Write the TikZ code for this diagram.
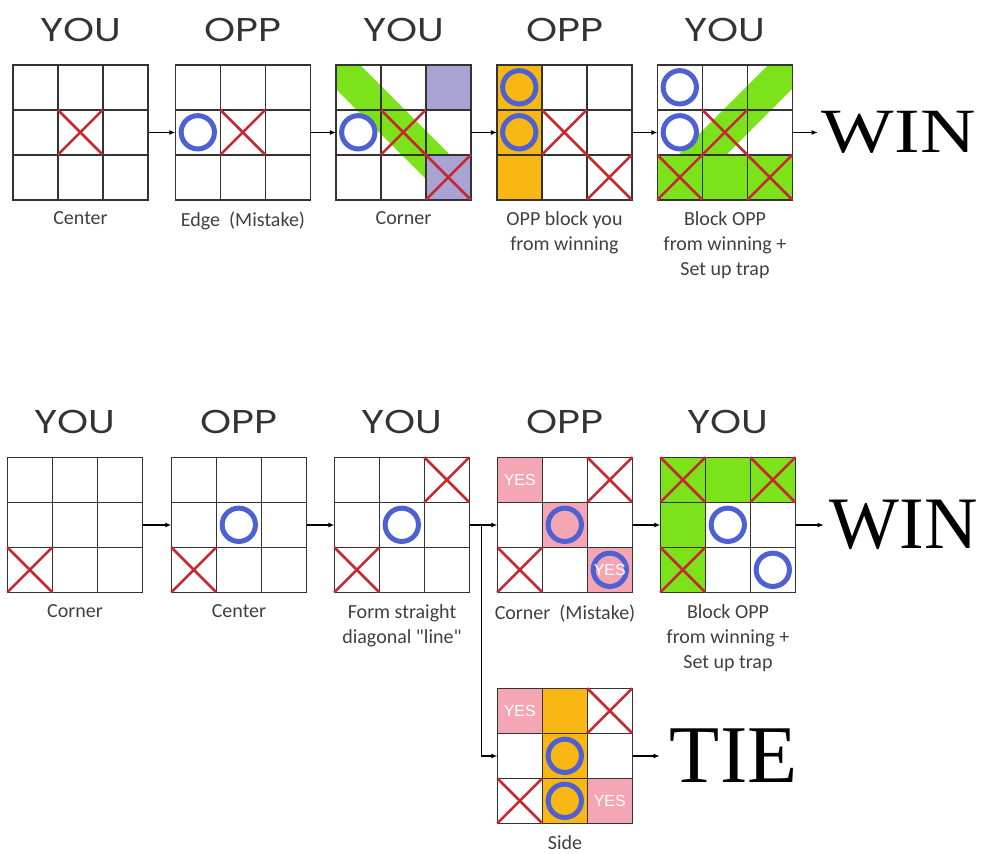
\documentclass[tikz,border=0pt]{standalone}
\usepackage{fontspec}
\usepackage{tikz}
\usetikzlibrary{positioning,arrows.meta}

\newfontfamily\headfont{Poppins}
\newfontfamily\lblfont{Carlito}
\newfontfamily\bigfont{Liberation Serif}
\newfontfamily\yesfont{Liberation Sans}

\definecolor{grn}{HTML}{7CE31A}
\definecolor{lav}{HTML}{A9A3D3}
\definecolor{pnk}{HTML}{F4A6B4}
\definecolor{org}{HTML}{F9B714}
\definecolor{oblue}{HTML}{4D61D2}
\definecolor{xred}{HTML}{C62830}

% cell helpers, (col,row) counted from the top left
\newcommand{\xx}[2]{\draw[xmark] (#1,#2) -- ++(1,1) (#1+1,#2) -- ++(-1,1);}
\newcommand{\oo}[2]{\draw[omark] (#1+0.5,#2+0.5) circle[radius=0.37];}
\newcommand{\sq}[3]{\fill[#3] (#1,#2) rectangle ++(1,1);}
\newcommand{\yes}[2]{\node[yesmark] at (#1+0.5,#2+0.5) {YES};}
\newcommand{\wide}[1]{\scalebox{1.2}[1]{#1}}
\newcommand{\board}[3]{%
  \begin{scope}[shift={(#1.north west)}, x=45pt, y=-45pt]
    #2
    \foreach \i in {0,...,3} {\draw[gridline] (\i,0) -- (\i,3); \draw[gridline] (0,\i) -- (3,\i);}
    #3
  \end{scope}}

\begin{document}
\begin{tikzpicture}[x=1pt, y=-1pt,
    tile/.style={minimum width=135pt, minimum height=135pt, inner sep=0pt},
    head/.style={font=\headfont\fontsize{33}{33}\selectfont, inner sep=0pt, text=black!80},
    lbl/.style={font=\lblfont\fontsize{20}{25}\selectfont, align=center, inner sep=0pt, text=black!75},
    gridline/.style={line width=1.6pt, black!80, line cap=rect},
    xmark/.style={line width=2.6pt, xred},
    omark/.style={line width=5pt, oblue},
    band/.style={line width=34pt, grn},
    yesmark/.style={font=\yesfont\fontsize{16}{16}\selectfont, text=white, inner sep=0pt},
    flow/.style={-{Latex[length=6pt,width=5pt]}, line width=1.4pt},
    big/.style={font=\bigfont, inner sep=0pt}]
  \useasboundingbox (0,0) rectangle (983,854);

  % first game
  \node[tile] (t1) at (80.5,132.5) {};
  \node[tile] (t2) at (243,132.5) {};
  \node[tile] (t3) at (403.5,132.5) {};
  \node[tile] (t4) at (564.5,132.5) {};
  \node[tile] (t5) at (725,132.5) {};

  \board{t1}{}{\xx{1}{1}}
  \board{t2}{}{\oo{0}{1} \xx{1}{1}}
  \board{t3}{\begin{scope}\clip (0,0) rectangle (3,3); \draw[band] (-0.5,-0.5) -- (2.25,2.25); \end{scope}
    \sq{2}{0}{lav} \sq{2}{2}{lav}}{\oo{0}{1} \xx{1}{1} \xx{2}{2}}
  \board{t4}{\sq{0}{0}{org} \sq{0}{1}{org} \sq{0}{2}{org}}{\oo{0}{0} \oo{0}{1} \xx{1}{1} \xx{2}{2}}
  \board{t5}{\begin{scope}\clip (0,0) rectangle (3,3); \draw[band] (0,3) -- (3.5,-0.5); \end{scope}
    \sq{0}{2}{grn} \sq{1}{2}{grn} \sq{2}{2}{grn}}{\oo{0}{0} \oo{0}{1} \xx{1}{1} \xx{0}{2} \xx{2}{2}}

  \node[head, above=23pt of t1] (h1) {\wide{YOU}};
  \node[head, above=23pt of t2] (h2) {\wide{OPP}};
  \node[head, above=23pt of t3] (h3) {\wide{YOU}};
  \node[head, above=23pt of t4] (h4) {\wide{OPP}};
  \node[head, above=23pt of t5] (h5) {\wide{YOU}};

  \node[lbl, below=11pt of t1] (l1) {Center};
  \node[lbl, below=11pt of t2] (l2) {Edge\ \ (Mistake)};
  \node[lbl, below=11pt of t3] (l3) {Corner};
  \node[lbl, below=11pt of t4] (l4) {OPP block you\\from winning};
  \node[lbl, below=11pt of t5] (l5) {Block OPP\\from winning +\\Set up trap};

  \node[big, right=25pt of t5, inner xsep=4pt] (win1) {\fontsize{63}{63}\selectfont\scalebox{1.22}[1]{WIN}};

  \draw[flow] (t1) -- (t2);
  \draw[flow] (t2) -- (t3);
  \draw[flow] (t3) -- (t4);
  \draw[flow] (t4) -- (t5);
  \draw[flow] (t5) -- (win1);

  % second game
  \node[tile] (b1) at (75,525) {};
  \node[tile] (b2) at (239,525) {};
  \node[tile] (b3) at (402,525) {};
  \node[tile] (b4) at (565,525) {};
  \node[tile] (b5) at (728,525) {};
  \node[tile] (tie) at (565,756) {};

  \board{b1}{}{\xx{0}{2}}
  \board{b2}{}{\xx{0}{2} \oo{1}{1}}
  \board{b3}{}{\xx{0}{2} \oo{1}{1} \xx{2}{0}}
  \board{b4}{\sq{0}{0}{pnk} \sq{1}{1}{pnk} \sq{2}{2}{pnk}}{\xx{2}{0} \xx{0}{2} \oo{1}{1} \oo{2}{2} \yes{0}{0} \yes{2}{2}}
  \board{b5}{\sq{0}{0}{grn} \sq{1}{0}{grn} \sq{2}{0}{grn} \sq{0}{1}{grn} \sq{0}{2}{grn}}{\xx{0}{0} \xx{2}{0} \xx{0}{2} \oo{1}{1} \oo{2}{2}}
  \board{tie}{\sq{0}{0}{pnk} \sq{1}{0}{org} \sq{1}{1}{org} \sq{1}{2}{org} \sq{2}{2}{pnk}}{\xx{2}{0} \xx{0}{2} \oo{1}{1} \oo{1}{2} \yes{0}{0} \yes{2}{2}}

  \node[head, above=23pt of b1] (g1) {\wide{YOU}};
  \node[head, above=23pt of b2] (g2) {\wide{OPP}};
  \node[head, above=23pt of b3] (g3) {\wide{YOU}};
  \node[head, above=23pt of b4] (g4) {\wide{OPP}};
  \node[head, above=23pt of b5] (g5) {\wide{YOU}};

  \node[lbl, below=12pt of b1] (m1) {Corner};
  \node[lbl, below=12pt of b2] (m2) {Center};
  \node[lbl, below=12pt of b3] (m3) {Form straight\\diagonal "line"};
  \node[lbl, below=12pt of b4] (m4) {Corner\ \ (Mistake)};
  \node[lbl, below=12pt of b5] (m5) {Block OPP\\from winning +\\Set up trap};
  \node[lbl, below=12pt of tie] (m6) {Side};

  \node[big, right=28pt of b5, inner xsep=6pt] (win2) {\fontsize{74}{74}\selectfont WIN};
  \node[big, right=27pt of tie, inner xsep=10pt] (tieword) {\fontsize{82}{82}\selectfont TIE};

  \draw[flow] (b1) -- (b2);
  \draw[flow] (b2) -- (b3);
  \draw[flow] (b3) -- (b4);
  \draw[flow] (b3.east) -- ++(12,0) |- (tie.west);
  \draw[flow] (b4) -- (b5);
  \draw[flow] (b5) -- (win2);
  \draw[flow] (tie) -- (tieword);
\end{tikzpicture}
\end{document}
